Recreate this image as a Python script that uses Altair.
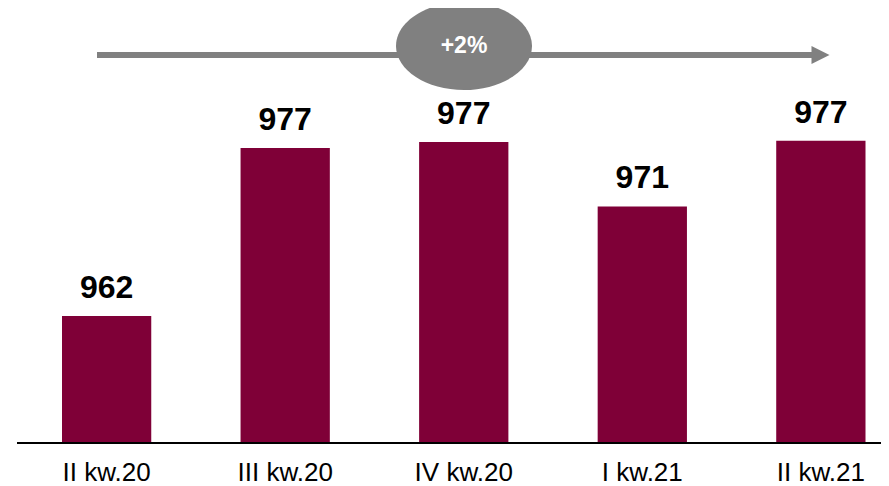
import altair as alt
import pandas as pd

quarters = ["II kw.20", "III kw.20", "IV kw.20", "I kw.21", "II kw.21"]
values = [962.0, 975.8, 976.3, 971.0, 976.4]
value_labels = ["962", "977", "977", "971", "977"]
growth_label = ["+2%"]

df = pd.DataFrame({"q": quarters, "v": values, "lab": value_labels})
ann = pd.DataFrame({"t": growth_label})

FONT = "Liberation Sans"
BAR = "#7F0037"
GRAY = "#808080"
W, H = 873, 435

x = alt.X("q:N", sort=quarters,
          scale=alt.Scale(range=[54, 857.5], paddingInner=0.5, paddingOuter=0),
          axis=alt.Axis(title=None, labelAngle=0, domain=False, ticks=False, tickSize=0,
                        labelPadding=37, labelBaseline="alphabetic", labelFontSize=26,
                        labelFont=FONT, labelColor="#000000", grid=False))
y = alt.Y("v:Q", scale=alt.Scale(domain=[951.56, 987.3], zero=False, nice=False, clamp=True), axis=None)

bars = alt.Chart(df).mark_bar(color=BAR).encode(x=x, y=y, y2=alt.value(H))
texts = alt.Chart(df).mark_text(font=FONT, fontSize=32, fontWeight="bold", color="#000000",
                                baseline="alphabetic", dy=-18).encode(x=x, y=y, text="lab:N")

baseline = alt.Chart(ann).mark_rule(color="#000000", strokeWidth=2).encode(
    x=alt.value(9), x2=alt.value(W), y=alt.value(H))
shaft = alt.Chart(ann).mark_rule(color=GRAY, strokeWidth=6).encode(
    x=alt.value(89), x2=alt.value(805), y=alt.value(47))
head = alt.Chart(ann).mark_point(filled=True, opacity=1, color=GRAY, strokeWidth=0,
                                 shape="M-1,-1L1,0L-1,1Z", size=324).encode(
    x=alt.value(812.5), y=alt.value(47))
ellipse = alt.Chart(ann).mark_point(filled=True, opacity=1, color=GRAY, strokeWidth=0,
                                    shape="M-1,0A1,0.647,0,1,1,1,0A1,0.647,0,1,1,-1,0Z",
                                    size=18496).encode(x=alt.value(456), y=alt.value(38))
gtext = alt.Chart(ann).mark_text(font=FONT, fontSize=23, fontWeight="bold", color="#FFFFFF",
                                 baseline="middle").encode(x=alt.value(456), y=alt.value(38), text="t:N")

chart = alt.layer(bars, texts, baseline, shaft, head, ellipse, gtext).properties(
    width=W, height=H,
    autosize=alt.AutoSizeParams(type="none"),
    padding={"left": 0, "top": 0, "right": 0, "bottom": 43},
).configure_view(stroke=None)

chart.save("out.html", embed_options={"renderer": "svg", "actions": False})
